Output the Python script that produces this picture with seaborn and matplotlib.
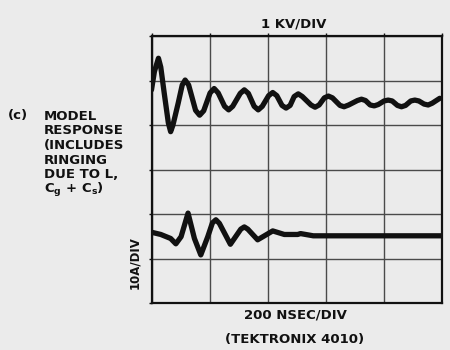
import pandas as pd
import matplotlib
matplotlib.use("Agg")
import matplotlib.pyplot as plt
import seaborn as sns

# screen divisions: 5 across (200 ns each), 6 down
volt_x = [0.00, 0.05, 0.12, 0.16, 0.22, 0.29, 0.33, 0.37, 0.46, 0.53, 0.58, 0.64,
          0.76, 0.83, 0.90, 1.01, 1.08, 1.15, 1.26, 1.33, 1.40, 1.53, 1.60, 1.67,
          1.77, 1.84, 1.91, 2.02, 2.09, 2.16, 2.25, 2.32, 2.39, 2.46, 2.53, 2.60,
          2.75, 2.82, 2.89, 2.98, 3.05, 3.12, 3.25, 3.32, 3.40, 3.55, 3.62, 3.69,
          3.77, 3.84, 3.91, 4.01, 4.08, 4.15, 4.24, 4.31, 4.38, 4.47, 4.54, 4.61,
          4.70, 4.77, 4.84, 4.97]
volt_y = [4.79, 5.20, 5.50, 5.30, 4.71, 4.05, 3.85, 4.00, 4.49, 4.90, 5.01, 4.90,
          4.33, 4.22, 4.32, 4.72, 4.82, 4.72, 4.42, 4.34, 4.42, 4.71, 4.79, 4.71,
          4.42, 4.34, 4.42, 4.66, 4.73, 4.66, 4.44, 4.38, 4.44, 4.64, 4.70, 4.64,
          4.45, 4.40, 4.45, 4.61, 4.65, 4.61, 4.44, 4.41, 4.45, 4.55, 4.58, 4.55,
          4.45, 4.43, 4.46, 4.54, 4.56, 4.54, 4.44, 4.41, 4.44, 4.54, 4.56, 4.54,
          4.47, 4.45, 4.49, 4.60]

curr_x = [0.00, 0.16, 0.33, 0.42, 0.51, 0.63, 0.74, 0.85, 0.97, 1.05, 1.11, 1.17,
          1.36, 1.54, 1.60, 1.66, 1.83, 2.09, 2.29, 2.52, 2.57, 2.79, 3.24, 4.99]
curr_y = [1.59, 1.54, 1.45, 1.33, 1.49, 2.02, 1.45, 1.08, 1.49, 1.80, 1.87, 1.79,
          1.32, 1.66, 1.71, 1.66, 1.42, 1.62, 1.54, 1.54, 1.56, 1.51, 1.51, 1.51]

n_xdiv = 5
n_ydiv = 6

caption = ["MODEL", "RESPONSE", "(INCLUDES", "RINGING", "DUE TO L,",
           r"C$_\mathbf{g}$ + C$_\mathbf{s}$)"]

paper = "#ebebeb"
ink = "#111111"

sns.set_theme(style="white")
plt.rcParams["font.family"] = ["DejaVu Sans"]
plt.rcParams["mathtext.fontset"] = "custom"
plt.rcParams["mathtext.bf"] = "DejaVu Sans:bold"
plt.rcParams["mathtext.rm"] = "DejaVu Sans:bold"

df = pd.concat([
    pd.DataFrame({"t": volt_x, "v": volt_y, "trace": "voltage"}),
    pd.DataFrame({"t": curr_x, "v": curr_y, "trace": "current"}),
])

fig = plt.figure(figsize=(4.5, 3.5), dpi=100, facecolor=paper)
ax = fig.add_axes([151.5 / 450, 1 - 303 / 350, 290 / 450, 267 / 350])
ax.set_facecolor(paper)

sns.lineplot(data=df, x="t", y="v", hue="trace", units="trace", estimator=None,
             palette={"voltage": ink, "current": ink}, legend=False, ax=ax,
             linewidth=3.8, solid_joinstyle="round", solid_capstyle="round", sort=False)

ax.set_xlim(0, n_xdiv)
ax.set_ylim(0, n_ydiv)
ax.set_xticks(range(n_xdiv + 1))
ax.set_yticks(range(n_ydiv + 1))
ax.grid(True, color="#4a4a4a", linewidth=1.0)
ax.set_xticklabels([])
ax.set_yticklabels([])
ax.set_xlabel("")
ax.set_ylabel("")
ax.tick_params(axis="both", which="both", length=2.5, width=1.0, color=ink,
               direction="out", top=True, bottom=False, left=True, right=False)
for s in ax.spines.values():
    s.set_color(ink)
    s.set_linewidth(1.6)

tkw = dict(fontsize=9.5, fontweight="bold", color=ink)
fig.text(294 / 450, 1 - 24 / 350, "1 KV/DIV", ha="center", va="center", **tkw)
fig.text(295 / 450, 1 - 315 / 350, "200 NSEC/DIV", ha="center", va="center", **tkw)
fig.text(295 / 450, 1 - 339 / 350, "(TEKTRONIX 4010)", ha="center", va="center", **tkw)
fig.text(135 / 450, 1 - 263 / 350, "10A/DIV", ha="center", va="center",
         rotation=90, fontsize=8.5, fontweight="bold", color=ink)

fig.text(8 / 450, 1 - 116 / 350, "(c)", ha="left", va="center", **tkw)
for i, line in enumerate(caption):
    fig.text(44 / 450, 1 - (116 + 14.7 * i) / 350, line, ha="left", va="center", **tkw)

fig.savefig("out.png", dpi=100, facecolor=paper)
